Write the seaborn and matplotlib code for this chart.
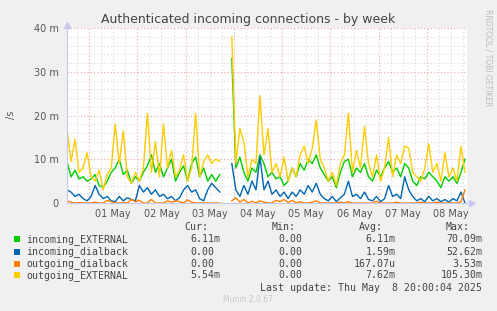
import numpy as np
import pandas as pd
import matplotlib
matplotlib.use("Agg")
import matplotlib.pyplot as plt
from matplotlib.patches import Rectangle
import seaborn as sns

nan = np.nan
# time axis: hours since Apr 30 13:00, 2-hour samples
hours = list(range(0, 200, 2))

incoming_EXTERNAL = [9.5, 6, 7.5, 5.5, 6, 5, 5.5, 6.5, 4, 3.5,
                     5, 7, 8, 10, 6.5, 7.5, 4.5, 6, 5, 7,
                     8.5, 11, 7, 9, 6, 8, 10, 5, 7, 8.5,
                     5, 9, 10.5, 6, 8, 5, 6.5, 5, 6.5, nan,
                     nan, 33, 8, 10.5, 7, 5, 8, 7, 11, 9,
                     6, 7, 5.5, 6, 4, 5, 8, 6, 9, 7.5,
                     10, 9, 11, 8, 6.5, 5, 6, 3.5, 7, 9.5,
                     10, 6, 8, 7, 9, 6, 5, 7.5, 6, 8,
                     9.5, 7, 8, 6, 9, 8, 5, 4, 6, 5.5,
                     7, 6, 5, 3.5, 6, 5, 6, 4.5, 7, 10]
incoming_dialback = [3, 2.5, 1.5, 2, 1, 0.5, 1.5, 4, 2, 1,
                     1.5, 0.5, 0.3, 1.5, 0.5, 1.2, 0.8, 0.5, 4, 2.5,
                     3.5, 2, 3, 1.5, 2, 1, 1.5, 0.5, 1.2, 3,
                     4, 2.5, 3, 1, 0.5, 3, 4.5, 3.5, 2.5, nan,
                     nan, 9, 3, 1.5, 4, 2, 5, 3, 10.5, 3,
                     5, 2, 3, 1.5, 2.5, 1, 2.5, 1.5, 3, 2,
                     4, 2.5, 4.5, 2, 1, 0.5, 1.5, 0.3, 1.2, 2,
                     5, 1.5, 2, 1, 2.5, 0.8, 0.5, 1.5, 0.3, 1,
                     4, 1.5, 2, 1, 6, 3, 1.5, 0.5, 1, 0.3,
                     1.5, 0.5, 1, 0.3, 0.8, 0.2, 1, 0.5, 2.5, 0]
outgoing_dialback = [0.5, 0.2, 0, 0.1, 0, 0, 0, 0.2, 0, 0,
                     0.6, 0.3, 0, 0, 0.1, 0, 0.8, 0.3, 0.6, 0,
                     0, 0.8, 0, 0, 0, 0.5, 0.2, 0.5, 0.3, 0,
                     0.7, 0.2, 0, 0, 0, 0, 0, 0, 0, nan,
                     nan, 0.5, 1.2, 0.2, 0.8, 0, 0.4, 0, 0.5, 0.2,
                     0, 0, 0.6, 0.3, 0.8, 0.1, 0.6, 0, 0.3, 0,
                     0, 0.2, 0.5, 0, 0, 0, 0, 0, 0.2, 0,
                     0.3, 0, 0, 0, 0, 0, 0, 0.4, 0, 0,
                     0, 0, 0.2, 0, 0, 0, 0, 0, 0.2, 0,
                     0, 0, 0.2, 0, 0, 0, 0, 0, 0.3, 3]
outgoing_EXTERNAL = [17, 9.5, 14.5, 7, 8, 11.5, 6, 5, 7.5, 3,
                     6.5, 8, 18, 9, 16.5, 6, 4.5, 7, 5, 8,
                     20.5, 7, 14, 6, 18, 8, 12, 6, 7.5, 11,
                     5, 8, 20.5, 6, 9.5, 11, 9, 10, 9.5, nan,
                     nan, 38, 9, 17, 14, 6, 10, 9, 24.5, 11,
                     17, 7, 9, 6, 10.5, 5, 8, 6, 11, 13,
                     9, 12.5, 19, 10, 8, 5, 7, 4, 9, 11,
                     20.5, 7, 12, 8, 17.5, 9, 6, 11, 5, 8,
                     15, 6, 11, 9, 13, 12.5, 7, 6, 5, 8,
                     13.5, 7, 9, 5, 11.5, 6, 8, 5, 13, 7]

series_names = ["incoming_EXTERNAL", "incoming_dialback", "outgoing_dialback", "outgoing_EXTERNAL"]
series_colors = ["#00CC00", "#0066B3", "#FF8000", "#FFCC00"]
cur = ["6.11m", "0.00", "0.00", "5.54m"]
mn = ["0.00", "0.00", "0.00", "0.00"]
avg = ["6.11m", "1.59m", "167.07u", "7.62m"]
mx = ["70.09m", "52.62m", "3.53m", "105.30m"]
day_labels = ["01 May", "02 May", "03 May", "04 May", "05 May", "06 May", "07 May", "08 May"]

rows = []
for name, vals in zip(series_names, [incoming_EXTERNAL, incoming_dialback,
                                     outgoing_dialback, outgoing_EXTERNAL]):
    for h, v in zip(hours, vals):
        rows.append((name, h, v, 0 if h < 80 else 1))
df = pd.DataFrame(rows, columns=["series", "hour", "value", "seg"]).dropna()

W, H = 497, 311
fig = plt.figure(figsize=(W / 100, H / 100), dpi=100, facecolor="#F0F0F0")
L, R, T, B = 67, 467, 28, 203
ax = fig.add_axes([L / W, 1 - B / H, (R - L) / W, (B - T) / H])
ax.set_facecolor("white")
ax.set_xlim(0, 199)
ax.set_ylim(0, 40)

# grid
minor_c = "#D8D8D8"
major_c = "#E8A8A8"
for y in range(2, 41, 2):
    if y % 10:
        ax.axhline(y, color=minor_c, lw=0.8, ls=(0, (1, 2)), zorder=0)
for x in range(5, 199, 6):
    if (x - 11) % 24:
        ax.axvline(x, color=minor_c, lw=0.8, ls=(0, (1, 2)), zorder=0)
for y in (10, 20, 30, 40):
    ax.axhline(y, color=major_c, lw=0.8, ls=(0, (1, 2)), zorder=0.5)
for x in range(11, 199, 24):
    ax.axvline(x, color=major_c, lw=0.8, ls=(0, (1, 2)), zorder=0.5)

sns.lineplot(data=df, x="hour", y="value", hue="series", units="seg",
             estimator=None, sort=False, hue_order=series_names,
             palette=series_colors, linewidth=1.0, legend=False, ax=ax)

ax.set_xlabel("")
ax.set_ylabel("")
for s in ("top", "right"):
    ax.spines[s].set_visible(False)
for s in ("left", "bottom"):
    ax.spines[s].set_color("#C8C8F0")
    ax.spines[s].set_linewidth(0.8)
ax.plot([0], [1.02], marker="^", color="#C8C8F0", ms=4, transform=ax.transAxes, clip_on=False)
ax.plot([1.012], [0], marker=">", color="#C8C8F0", ms=4, transform=ax.transAxes, clip_on=False)

ax.set_yticks([0, 10, 20, 30, 40])
ax.set_yticklabels(["0", "10 m", "20 m", "30 m", "40 m"])
ax.set_xticks(list(range(23, 199, 24)))
ax.set_xticklabels(day_labels)
ax.tick_params(axis="both", length=0, labelsize=7, labelcolor="#555555")
ax.tick_params(axis="y", pad=6)
ax.tick_params(axis="x", pad=4)

fig.text(248 / W, 1 - 19 / H, "Authenticated incoming connections - by week",
         ha="center", va="center", fontsize=9, color="#444444")
fig.text(11 / W, 1 - 115 / H, "/s", rotation=90, ha="center", va="center",
         fontsize=7, color="#555555")
fig.text(488 / W, 1 - 58 / H, "RRDTOOL / TOBI OETIKER", rotation=270,
         ha="center", va="center", fontsize=5.5, color="#BBBBBB")

mono = "DejaVu Sans Mono"
fs = 7.1
tc = "#444444"
cw = 5.94
def ftext(x, y, s, ha="left", **kw):
    fig.text(x / W, 1 - y / H, s, ha=ha, va="center", family=mono,
             fontsize=fs, color=kw.get("color", tc))

hdr_y = 226.7
ftext(208, hdr_y, "Cur:", ha="right")
ftext(296, hdr_y, "Min:", ha="right")
ftext(383, hdr_y, "Avg:", ha="right")
ftext(470, hdr_y, "Max:", ha="right")

def unit_shift(v):
    return 0 if v[-1].isalpha() else cw

row_y = [239.3, 251.7, 263.7, 275.3]
for i, name in enumerate(series_names):
    y = row_y[i]
    fig.patches.append(Rectangle(((14) / W, 1 - (y + 3) / H), 6 / W, 6 / H,
                                 transform=fig.transFigure, facecolor=series_colors[i],
                                 edgecolor="none"))
    ftext(26, y, name)
    ftext(220.7 - unit_shift(cur[i]), y, cur[i], ha="right")
    ftext(308.2 - unit_shift(mn[i]), y, mn[i], ha="right")
    ftext(395.7 - unit_shift(avg[i]), y, avg[i], ha="right")
    ftext(482.3 - unit_shift(mx[i]), y, mx[i], ha="right")

ftext(482.3, 287.7, "Last update: Thu May  8 20:00:04 2025", ha="right")
fig.text(248 / W, 1 - 300 / H, "Munin 2.0.67", ha="center", va="center",
         fontsize=5.5, color="#C8C8C8")

fig.savefig("out.png", dpi=100, facecolor=fig.get_facecolor())
